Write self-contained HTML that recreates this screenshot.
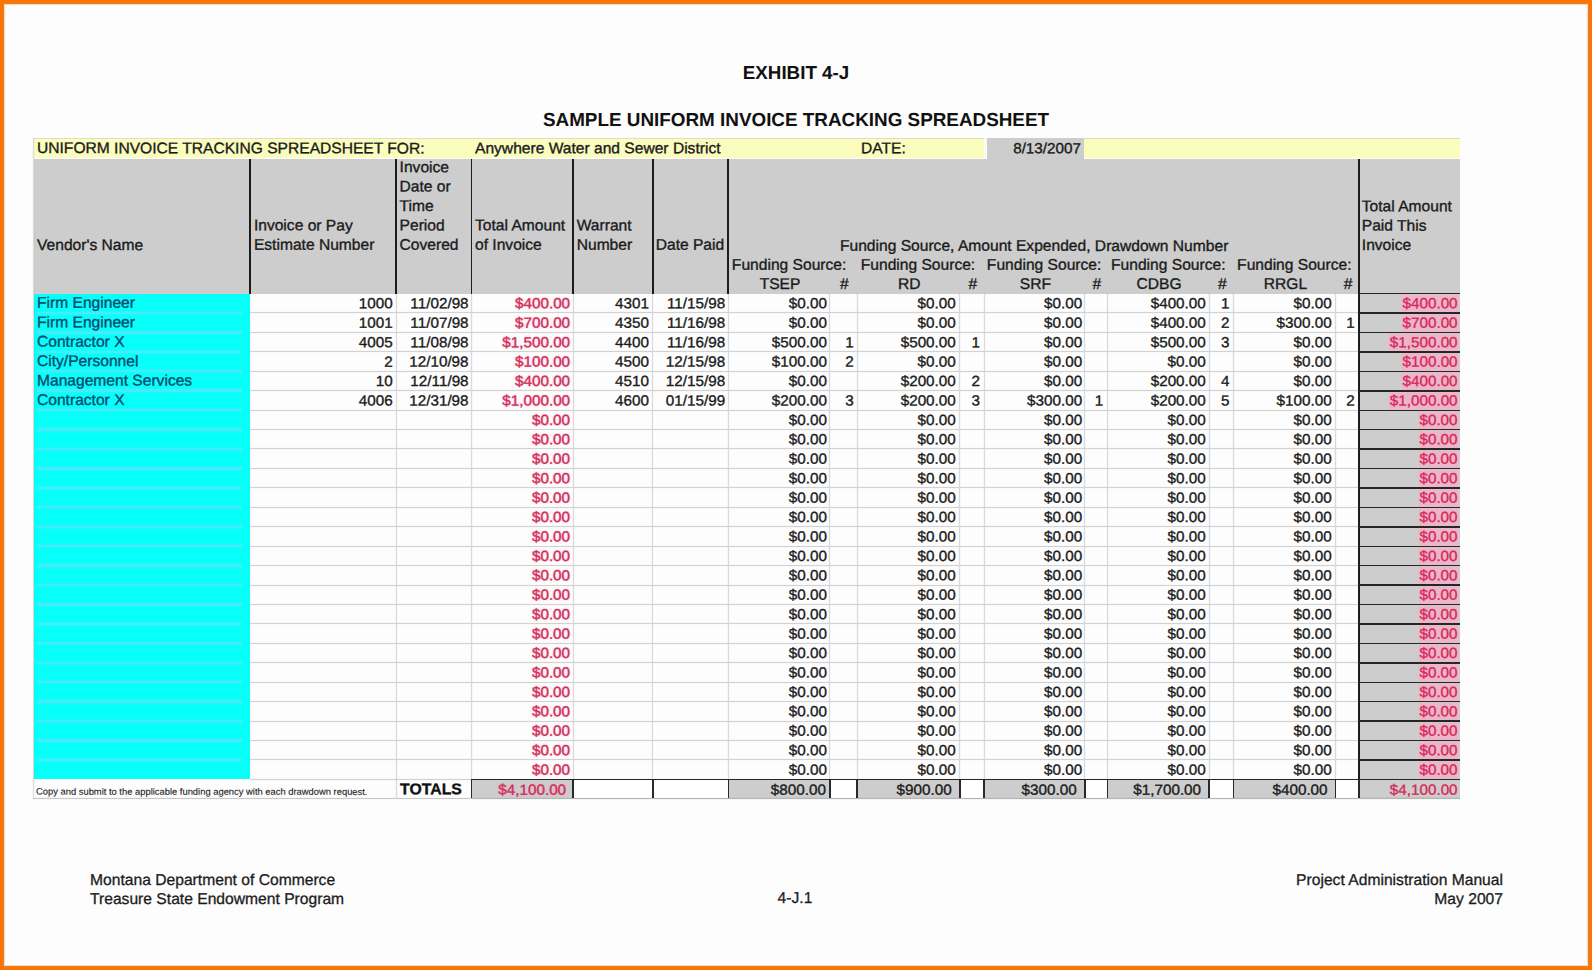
<!DOCTYPE html>
<html lang="en">
<head>
<meta charset="utf-8">
<title>Exhibit 4-J Sample Uniform Invoice Tracking Spreadsheet</title>
<style>
html,body{margin:0;padding:0;background:#fdfdfd;}
body{width:1592px;height:970px;overflow:hidden;position:relative;text-rendering:geometricPrecision;font-family:"Liberation Sans",sans-serif;font-size:15.6px;color:#1a1a1a;}
.fr{position:absolute;z-index:20;}
.abs{position:absolute;}
.t{position:absolute;white-space:nowrap;line-height:19px;-webkit-text-stroke:0.35px currentColor;transform:translate(var(--x,0px),var(--y,0px)) rotate(.05deg) scaleY(.985);transform-origin:50% 50%;}
.n{transform:translate(var(--x,0px),var(--y,0px)) rotate(.05deg) scaleY(.965);font-size:15.25px;}
.r{text-align:right;}
.c{text-align:center;}
.b{font-weight:bold;}
.red{color:#cf2f58;text-shadow:0 0 2.5px rgba(250,150,195,.75);}
.red2{color:#d8285a;}
.red2 span{background:#ecb6ca;box-shadow:0 0 2px 1px #ecb6ca;}
.cy{color:#0a4870;}
.vl{position:absolute;width:1.8px;background:#1c1c1c;}
.hl{position:absolute;height:1.6px;background:#262626;z-index:5;}
.gv{position:absolute;width:1px;background:#dadada;box-shadow:0 0 0 0.5px rgba(0,0,0,.045);}
.gh{position:absolute;height:1px;background:#d2d2d2;box-shadow:0 0 0 0.5px rgba(0,0,0,.03);}
.title{position:absolute;font-weight:bold;font-size:18.8px;color:#111;white-space:nowrap;text-align:center;line-height:22px;}
.foot{position:absolute;white-space:nowrap;line-height:20px;font-size:15.65px;color:#1c1c1c;-webkit-text-stroke:0.3px currentColor;}
</style>
</head>
<body>

<div class="title" style="left:596px;width:400px;top:62px;">EXHIBIT 4-J</div>
<div class="title" style="left:396px;width:800px;top:109px;font-size:18.87px;">SAMPLE UNIFORM INVOICE TRACKING SPREADSHEET</div>
<div class="abs" style="left:33.0px;top:138.0px;width:1427.2px;height:20.0px;background:#fafdbe;border-top:1px solid #dcdfc0;box-sizing:border-box;"></div>
<div class="abs" style="left:983.5px;top:137.5px;width:3.5px;height:21.0px;background:#fbfbf4;"></div>
<div class="abs" style="left:987.0px;top:137.8px;width:97.0px;height:21.7px;background:#cdcdcd;"></div>
<div class="t " style="left:37px;top:139px;--x:0.00px;--y:0.30px;">UNIFORM INVOICE TRACKING SPREADSHEET FOR:</div>
<div class="t " style="left:475px;top:139px;--x:0.00px;--y:0.30px;">Anywhere Water and Sewer District</div>
<div class="t " style="left:861px;top:139px;--x:0.00px;--y:0.30px;">DATE:</div>
<div class="t r n " style="left:984px;width:97.0px;top:139px;--x:0.00px;--y:0.30px;">8/13/2007</div>
<div class="abs" style="left:33.0px;top:158.5px;width:1427.2px;height:135.0px;background:#cdcdcd;"></div>
<div class="abs" style="left:33.8px;top:293.5px;width:216.5px;height:485.8px;background:#06fff8;"></div>
<div class="abs" style="left:37.0px;top:310.7px;width:205.0px;height:4.4px;background:linear-gradient(to bottom,rgba(95,228,252,0),rgba(95,228,252,.7) 30%,rgba(95,228,252,.7) 70%,rgba(95,228,252,0));"></div>
<div class="abs" style="left:37.0px;top:330.2px;width:205.0px;height:4.4px;background:linear-gradient(to bottom,rgba(95,228,252,0),rgba(95,228,252,.7) 30%,rgba(95,228,252,.7) 70%,rgba(95,228,252,0));"></div>
<div class="abs" style="left:37.0px;top:349.6px;width:205.0px;height:4.4px;background:linear-gradient(to bottom,rgba(95,228,252,0),rgba(95,228,252,.7) 30%,rgba(95,228,252,.7) 70%,rgba(95,228,252,0));"></div>
<div class="abs" style="left:37.0px;top:369.0px;width:205.0px;height:4.4px;background:linear-gradient(to bottom,rgba(95,228,252,0),rgba(95,228,252,.7) 30%,rgba(95,228,252,.7) 70%,rgba(95,228,252,0));"></div>
<div class="abs" style="left:37.0px;top:388.4px;width:205.0px;height:4.4px;background:linear-gradient(to bottom,rgba(95,228,252,0),rgba(95,228,252,.7) 30%,rgba(95,228,252,.7) 70%,rgba(95,228,252,0));"></div>
<div class="abs" style="left:37.0px;top:407.9px;width:205.0px;height:4.4px;background:linear-gradient(to bottom,rgba(95,228,252,0),rgba(95,228,252,.7) 30%,rgba(95,228,252,.7) 70%,rgba(95,228,252,0));"></div>
<div class="abs" style="left:37.0px;top:427.3px;width:205.0px;height:4.4px;background:linear-gradient(to bottom,rgba(95,228,252,0),rgba(95,228,252,.7) 30%,rgba(95,228,252,.7) 70%,rgba(95,228,252,0));"></div>
<div class="abs" style="left:37.0px;top:446.7px;width:205.0px;height:4.4px;background:linear-gradient(to bottom,rgba(95,228,252,0),rgba(95,228,252,.7) 30%,rgba(95,228,252,.7) 70%,rgba(95,228,252,0));"></div>
<div class="abs" style="left:37.0px;top:466.2px;width:205.0px;height:4.4px;background:linear-gradient(to bottom,rgba(95,228,252,0),rgba(95,228,252,.7) 30%,rgba(95,228,252,.7) 70%,rgba(95,228,252,0));"></div>
<div class="abs" style="left:37.0px;top:485.6px;width:205.0px;height:4.4px;background:linear-gradient(to bottom,rgba(95,228,252,0),rgba(95,228,252,.7) 30%,rgba(95,228,252,.7) 70%,rgba(95,228,252,0));"></div>
<div class="abs" style="left:37.0px;top:505.0px;width:205.0px;height:4.4px;background:linear-gradient(to bottom,rgba(95,228,252,0),rgba(95,228,252,.7) 30%,rgba(95,228,252,.7) 70%,rgba(95,228,252,0));"></div>
<div class="abs" style="left:37.0px;top:524.5px;width:205.0px;height:4.4px;background:linear-gradient(to bottom,rgba(95,228,252,0),rgba(95,228,252,.7) 30%,rgba(95,228,252,.7) 70%,rgba(95,228,252,0));"></div>
<div class="abs" style="left:37.0px;top:543.9px;width:205.0px;height:4.4px;background:linear-gradient(to bottom,rgba(95,228,252,0),rgba(95,228,252,.7) 30%,rgba(95,228,252,.7) 70%,rgba(95,228,252,0));"></div>
<div class="abs" style="left:37.0px;top:563.3px;width:205.0px;height:4.4px;background:linear-gradient(to bottom,rgba(95,228,252,0),rgba(95,228,252,.7) 30%,rgba(95,228,252,.7) 70%,rgba(95,228,252,0));"></div>
<div class="abs" style="left:37.0px;top:582.8px;width:205.0px;height:4.4px;background:linear-gradient(to bottom,rgba(95,228,252,0),rgba(95,228,252,.7) 30%,rgba(95,228,252,.7) 70%,rgba(95,228,252,0));"></div>
<div class="abs" style="left:37.0px;top:602.2px;width:205.0px;height:4.4px;background:linear-gradient(to bottom,rgba(95,228,252,0),rgba(95,228,252,.7) 30%,rgba(95,228,252,.7) 70%,rgba(95,228,252,0));"></div>
<div class="abs" style="left:37.0px;top:621.6px;width:205.0px;height:4.4px;background:linear-gradient(to bottom,rgba(95,228,252,0),rgba(95,228,252,.7) 30%,rgba(95,228,252,.7) 70%,rgba(95,228,252,0));"></div>
<div class="abs" style="left:37.0px;top:641.0px;width:205.0px;height:4.4px;background:linear-gradient(to bottom,rgba(95,228,252,0),rgba(95,228,252,.7) 30%,rgba(95,228,252,.7) 70%,rgba(95,228,252,0));"></div>
<div class="abs" style="left:37.0px;top:660.5px;width:205.0px;height:4.4px;background:linear-gradient(to bottom,rgba(95,228,252,0),rgba(95,228,252,.7) 30%,rgba(95,228,252,.7) 70%,rgba(95,228,252,0));"></div>
<div class="abs" style="left:37.0px;top:679.9px;width:205.0px;height:4.4px;background:linear-gradient(to bottom,rgba(95,228,252,0),rgba(95,228,252,.7) 30%,rgba(95,228,252,.7) 70%,rgba(95,228,252,0));"></div>
<div class="abs" style="left:37.0px;top:699.3px;width:205.0px;height:4.4px;background:linear-gradient(to bottom,rgba(95,228,252,0),rgba(95,228,252,.7) 30%,rgba(95,228,252,.7) 70%,rgba(95,228,252,0));"></div>
<div class="abs" style="left:37.0px;top:718.8px;width:205.0px;height:4.4px;background:linear-gradient(to bottom,rgba(95,228,252,0),rgba(95,228,252,.7) 30%,rgba(95,228,252,.7) 70%,rgba(95,228,252,0));"></div>
<div class="abs" style="left:37.0px;top:738.2px;width:205.0px;height:4.4px;background:linear-gradient(to bottom,rgba(95,228,252,0),rgba(95,228,252,.7) 30%,rgba(95,228,252,.7) 70%,rgba(95,228,252,0));"></div>
<div class="abs" style="left:37.0px;top:757.6px;width:205.0px;height:4.4px;background:linear-gradient(to bottom,rgba(95,228,252,0),rgba(95,228,252,.7) 30%,rgba(95,228,252,.7) 70%,rgba(95,228,252,0));"></div>
<div class="abs" style="left:1358.8px;top:293.5px;width:101.4px;height:505.1px;background:#cdcdcd;"></div>
<div class="gh" style="left:250.3px;top:312.4px;width:1108.5px;"></div>
<div class="gh" style="left:250.3px;top:331.9px;width:1108.5px;"></div>
<div class="gh" style="left:250.3px;top:351.3px;width:1108.5px;"></div>
<div class="gh" style="left:250.3px;top:370.7px;width:1108.5px;"></div>
<div class="gh" style="left:250.3px;top:390.1px;width:1108.5px;"></div>
<div class="gh" style="left:250.3px;top:409.6px;width:1108.5px;"></div>
<div class="gh" style="left:250.3px;top:429.0px;width:1108.5px;"></div>
<div class="gh" style="left:250.3px;top:448.4px;width:1108.5px;"></div>
<div class="gh" style="left:250.3px;top:467.9px;width:1108.5px;"></div>
<div class="gh" style="left:250.3px;top:487.3px;width:1108.5px;"></div>
<div class="gh" style="left:250.3px;top:506.7px;width:1108.5px;"></div>
<div class="gh" style="left:250.3px;top:526.2px;width:1108.5px;"></div>
<div class="gh" style="left:250.3px;top:545.6px;width:1108.5px;"></div>
<div class="gh" style="left:250.3px;top:565.0px;width:1108.5px;"></div>
<div class="gh" style="left:250.3px;top:584.5px;width:1108.5px;"></div>
<div class="gh" style="left:250.3px;top:603.9px;width:1108.5px;"></div>
<div class="gh" style="left:250.3px;top:623.3px;width:1108.5px;"></div>
<div class="gh" style="left:250.3px;top:642.7px;width:1108.5px;"></div>
<div class="gh" style="left:250.3px;top:662.2px;width:1108.5px;"></div>
<div class="gh" style="left:250.3px;top:681.6px;width:1108.5px;"></div>
<div class="gh" style="left:250.3px;top:701.0px;width:1108.5px;"></div>
<div class="gh" style="left:250.3px;top:720.5px;width:1108.5px;"></div>
<div class="gh" style="left:250.3px;top:739.9px;width:1108.5px;"></div>
<div class="gh" style="left:250.3px;top:759.3px;width:1108.5px;"></div>
<div class="gh" style="left:250.3px;top:778.8px;width:1108.5px;"></div>
<div class="gv" style="left:395.6px;top:293.5px;height:485.8px;"></div>
<div class="gv" style="left:471.1px;top:293.5px;height:485.8px;"></div>
<div class="gv" style="left:572.6px;top:293.5px;height:485.8px;"></div>
<div class="gv" style="left:652.4px;top:293.5px;height:485.8px;"></div>
<div class="gv" style="left:727.7px;top:293.5px;height:485.8px;"></div>
<div class="gv" style="left:829.4px;top:293.5px;height:485.8px;"></div>
<div class="gv" style="left:856.5px;top:293.5px;height:485.8px;"></div>
<div class="gv" style="left:959.2px;top:293.5px;height:485.8px;"></div>
<div class="gv" style="left:983.5px;top:293.5px;height:485.8px;"></div>
<div class="gv" style="left:1084.2px;top:293.5px;height:485.8px;"></div>
<div class="gv" style="left:1106.7px;top:293.5px;height:485.8px;"></div>
<div class="gv" style="left:1208.6px;top:293.5px;height:485.8px;"></div>
<div class="gv" style="left:1232.9px;top:293.5px;height:485.8px;"></div>
<div class="gv" style="left:1335.1px;top:293.5px;height:485.8px;"></div>
<div class="gv" style="left:32.5px;top:137.5px;height:661.1px;background:#dcdcdc"></div>
<div class="gh" style="left:33.0px;top:798.1px;width:1427.2px;background:#c8c8c8"></div>
<div class="gv" style="left:395.6px;top:779.2px;height:19.4px;"></div>
<div class="vl" style="left:249.4px;top:158.5px;height:135.0px;"></div>
<div class="vl" style="left:395.2px;top:158.5px;height:135.0px;"></div>
<div class="vl" style="left:470.7px;top:158.5px;height:135.0px;"></div>
<div class="vl" style="left:572.2px;top:158.5px;height:135.0px;"></div>
<div class="vl" style="left:652.0px;top:158.5px;height:135.0px;"></div>
<div class="vl" style="left:727.3px;top:158.5px;height:135.0px;"></div>
<div class="vl" style="left:1357.9px;top:158.5px;height:135.0px;"></div>
<div class="vl" style="left:1357.8px;top:293.5px;height:505.1px;"></div>
<div class="hl" style="left:1358.8px;top:292.9px;width:101.4px;"></div>
<div class="hl" style="left:1358.8px;top:312.3px;width:101.4px;"></div>
<div class="hl" style="left:1358.8px;top:331.8px;width:101.4px;"></div>
<div class="hl" style="left:1358.8px;top:351.2px;width:101.4px;"></div>
<div class="hl" style="left:1358.8px;top:370.6px;width:101.4px;"></div>
<div class="hl" style="left:1358.8px;top:390.0px;width:101.4px;"></div>
<div class="hl" style="left:1358.8px;top:409.5px;width:101.4px;"></div>
<div class="hl" style="left:1358.8px;top:428.9px;width:101.4px;"></div>
<div class="hl" style="left:1358.8px;top:448.3px;width:101.4px;"></div>
<div class="hl" style="left:1358.8px;top:467.8px;width:101.4px;"></div>
<div class="hl" style="left:1358.8px;top:487.2px;width:101.4px;"></div>
<div class="hl" style="left:1358.8px;top:506.6px;width:101.4px;"></div>
<div class="hl" style="left:1358.8px;top:526.1px;width:101.4px;"></div>
<div class="hl" style="left:1358.8px;top:545.5px;width:101.4px;"></div>
<div class="hl" style="left:1358.8px;top:564.9px;width:101.4px;"></div>
<div class="hl" style="left:1358.8px;top:584.4px;width:101.4px;"></div>
<div class="hl" style="left:1358.8px;top:603.8px;width:101.4px;"></div>
<div class="hl" style="left:1358.8px;top:623.2px;width:101.4px;"></div>
<div class="hl" style="left:1358.8px;top:642.6px;width:101.4px;"></div>
<div class="hl" style="left:1358.8px;top:662.1px;width:101.4px;"></div>
<div class="hl" style="left:1358.8px;top:681.5px;width:101.4px;"></div>
<div class="hl" style="left:1358.8px;top:700.9px;width:101.4px;"></div>
<div class="hl" style="left:1358.8px;top:720.4px;width:101.4px;"></div>
<div class="hl" style="left:1358.8px;top:739.8px;width:101.4px;"></div>
<div class="hl" style="left:1358.8px;top:759.2px;width:101.4px;"></div>
<div class="hl" style="left:1358.8px;top:778.6px;width:101.4px;"></div>
<div class="t " style="left:37px;top:236px;--x:0.00px;--y:0.16px;">Vendor's Name</div>
<div class="t " style="left:253px;top:216px;--x:0.90px;--y:0.44px;">Invoice or Pay</div>
<div class="t " style="left:253px;top:235px;--x:0.90px;--y:0.85px;">Estimate Number</div>
<div class="t " style="left:399px;top:158px;--x:0.60px;--y:0.21px;">Invoice</div>
<div class="t " style="left:399px;top:177px;--x:0.60px;--y:0.62px;">Date or</div>
<div class="t " style="left:399px;top:197px;--x:0.60px;--y:0.03px;">Time</div>
<div class="t " style="left:399px;top:216px;--x:0.60px;--y:0.44px;">Period</div>
<div class="t " style="left:399px;top:235px;--x:0.60px;--y:0.85px;">Covered</div>
<div class="t " style="left:475px;top:216px;--x:0.00px;--y:0.44px;">Total Amount</div>
<div class="t " style="left:475px;top:235px;--x:0.00px;--y:0.85px;">of Invoice</div>
<div class="t " style="left:576px;top:216px;--x:0.70px;--y:0.44px;">Warrant</div>
<div class="t " style="left:576px;top:235px;--x:0.70px;--y:0.85px;">Number</div>
<div class="t " style="left:655px;top:235px;--x:0.70px;--y:0.85px;">Date Paid</div>
<div class="t " style="left:1361px;top:197px;--x:0.80px;--y:0.28px;">Total Amount</div>
<div class="t " style="left:1361px;top:216px;--x:0.80px;--y:0.69px;">Paid This</div>
<div class="t " style="left:1361px;top:236px;--x:0.80px;--y:0.10px;">Invoice</div>
<div class="t " style="left:840px;top:236px;--x:0.00px;--y:0.90px;">Funding Source, Amount Expended, Drawdown Number</div>
<div class="t c " style="left:721px;width:135.8px;top:255px;--x:0.20px;--y:0.80px;">Funding Source:</div>
<div class="t c " style="left:730px;width:99.7px;top:274px;--x:0.20px;--y:0.96px;">TSEP</div>
<div class="t c " style="left:831px;width:25.1px;top:274px;--x:0.90px;--y:0.96px;">#</div>
<div class="t c " style="left:852px;width:132.0px;top:255px;--x:0.00px;--y:0.80px;">Funding Source:</div>
<div class="t c " style="left:859px;width:100.7px;top:274px;--x:0.00px;--y:0.96px;">RD</div>
<div class="t c " style="left:961px;width:22.3px;top:274px;--x:0.70px;--y:0.96px;">#</div>
<div class="t c " style="left:981px;width:126.2px;top:255px;--x:0.00px;--y:0.80px;">Funding Source:</div>
<div class="t c " style="left:986px;width:98.7px;top:274px;--x:0.00px;--y:0.96px;">SRF</div>
<div class="t c " style="left:1086px;width:20.5px;top:274px;--x:0.70px;--y:0.96px;">#</div>
<div class="t c " style="left:1103px;width:130.2px;top:255px;--x:0.20px;--y:0.80px;">Funding Source:</div>
<div class="t c " style="left:1109px;width:99.9px;top:274px;--x:0.20px;--y:0.96px;">CDBG</div>
<div class="t c " style="left:1211px;width:22.3px;top:274px;--x:0.10px;--y:0.96px;">#</div>
<div class="t c " style="left:1229px;width:128.9px;top:255px;--x:0.90px;--y:0.80px;">Funding Source:</div>
<div class="t c " style="left:1235px;width:100.2px;top:274px;--x:0.40px;--y:0.96px;">RRGL</div>
<div class="t c " style="left:1337px;width:21.2px;top:274px;--x:0.60px;--y:0.96px;">#</div>
<div class="t cy" style="left:37px;top:293px;--x:0.00px;--y:0.87px;">Firm Engineer</div>
<div class="t r n " style="left:250px;width:142.5px;top:294px;--x:0.30px;--y:0.47px;">1000</div>
<div class="t r n " style="left:396px;width:72.5px;top:294px;--x:0.10px;--y:0.47px;">11/02/98</div>
<div class="t r n red" style="left:471px;width:98.5px;top:294px;--x:0.60px;--y:0.47px;">$400.00</div>
<div class="t r n " style="left:573px;width:75.8px;top:294px;--x:0.10px;--y:0.47px;">4301</div>
<div class="t r n " style="left:652px;width:72.3px;top:294px;--x:0.90px;--y:0.47px;">11/15/98</div>
<div class="t r n " style="left:728px;width:98.8px;top:294px;--x:0.20px;--y:0.47px;">$0.00</div>
<div class="t r n " style="left:857px;width:98.8px;top:294px;--x:0.00px;--y:0.47px;">$0.00</div>
<div class="t r n " style="left:984px;width:98.2px;top:294px;--x:0.00px;--y:0.47px;">$0.00</div>
<div class="t r n " style="left:1107px;width:98.6px;top:294px;--x:0.20px;--y:0.47px;">$400.00</div>
<div class="t r n " style="left:1209px;width:20.3px;top:294px;--x:0.10px;--y:0.47px;">1</div>
<div class="t r n " style="left:1233px;width:98.3px;top:294px;--x:0.40px;--y:0.47px;">$0.00</div>
<div class="t r n red2" style="left:1358px;width:98.8px;top:294px;--x:0.80px;--y:0.47px;"><span>$400.00</span></div>
<div class="t cy" style="left:37px;top:313px;--x:0.00px;--y:0.30px;">Firm Engineer</div>
<div class="t r n " style="left:250px;width:142.5px;top:313px;--x:0.30px;--y:0.90px;">1001</div>
<div class="t r n " style="left:396px;width:72.5px;top:313px;--x:0.10px;--y:0.90px;">11/07/98</div>
<div class="t r n red" style="left:471px;width:98.5px;top:313px;--x:0.60px;--y:0.90px;">$700.00</div>
<div class="t r n " style="left:573px;width:75.8px;top:313px;--x:0.10px;--y:0.90px;">4350</div>
<div class="t r n " style="left:652px;width:72.3px;top:313px;--x:0.90px;--y:0.90px;">11/16/98</div>
<div class="t r n " style="left:728px;width:98.8px;top:313px;--x:0.20px;--y:0.90px;">$0.00</div>
<div class="t r n " style="left:857px;width:98.8px;top:313px;--x:0.00px;--y:0.90px;">$0.00</div>
<div class="t r n " style="left:984px;width:98.2px;top:313px;--x:0.00px;--y:0.90px;">$0.00</div>
<div class="t r n " style="left:1107px;width:98.6px;top:313px;--x:0.20px;--y:0.90px;">$400.00</div>
<div class="t r n " style="left:1209px;width:20.3px;top:313px;--x:0.10px;--y:0.90px;">2</div>
<div class="t r n " style="left:1233px;width:98.3px;top:313px;--x:0.40px;--y:0.90px;">$300.00</div>
<div class="t r n " style="left:1335px;width:19.2px;top:313px;--x:0.60px;--y:0.90px;">1</div>
<div class="t r n red2" style="left:1358px;width:98.8px;top:313px;--x:0.80px;--y:0.90px;"><span>$700.00</span></div>
<div class="t cy" style="left:37px;top:332px;--x:0.00px;--y:0.73px;">Contractor X</div>
<div class="t r n " style="left:250px;width:142.5px;top:333px;--x:0.30px;--y:0.33px;">4005</div>
<div class="t r n " style="left:396px;width:72.5px;top:333px;--x:0.10px;--y:0.33px;">11/08/98</div>
<div class="t r n red" style="left:471px;width:98.5px;top:333px;--x:0.60px;--y:0.33px;">$1,500.00</div>
<div class="t r n " style="left:573px;width:75.8px;top:333px;--x:0.10px;--y:0.33px;">4400</div>
<div class="t r n " style="left:652px;width:72.3px;top:333px;--x:0.90px;--y:0.33px;">11/16/98</div>
<div class="t r n " style="left:728px;width:98.8px;top:333px;--x:0.20px;--y:0.33px;">$500.00</div>
<div class="t r n " style="left:829px;width:23.8px;top:333px;--x:0.90px;--y:0.33px;">1</div>
<div class="t r n " style="left:857px;width:98.8px;top:333px;--x:0.00px;--y:0.33px;">$500.00</div>
<div class="t r n " style="left:959px;width:20.3px;top:333px;--x:0.70px;--y:0.33px;">1</div>
<div class="t r n " style="left:984px;width:98.2px;top:333px;--x:0.00px;--y:0.33px;">$0.00</div>
<div class="t r n " style="left:1107px;width:98.6px;top:333px;--x:0.20px;--y:0.33px;">$500.00</div>
<div class="t r n " style="left:1209px;width:20.3px;top:333px;--x:0.10px;--y:0.33px;">3</div>
<div class="t r n " style="left:1233px;width:98.3px;top:333px;--x:0.40px;--y:0.33px;">$0.00</div>
<div class="t r n red2" style="left:1358px;width:98.8px;top:333px;--x:0.80px;--y:0.33px;"><span>$1,500.00</span></div>
<div class="t cy" style="left:37px;top:352px;--x:0.00px;--y:0.16px;">City/Personnel</div>
<div class="t r n " style="left:250px;width:142.5px;top:352px;--x:0.30px;--y:0.76px;">2</div>
<div class="t r n " style="left:396px;width:72.5px;top:352px;--x:0.10px;--y:0.76px;">12/10/98</div>
<div class="t r n red" style="left:471px;width:98.5px;top:352px;--x:0.60px;--y:0.76px;">$100.00</div>
<div class="t r n " style="left:573px;width:75.8px;top:352px;--x:0.10px;--y:0.76px;">4500</div>
<div class="t r n " style="left:652px;width:72.3px;top:352px;--x:0.90px;--y:0.76px;">12/15/98</div>
<div class="t r n " style="left:728px;width:98.8px;top:352px;--x:0.20px;--y:0.76px;">$100.00</div>
<div class="t r n " style="left:829px;width:23.8px;top:352px;--x:0.90px;--y:0.76px;">2</div>
<div class="t r n " style="left:857px;width:98.8px;top:352px;--x:0.00px;--y:0.76px;">$0.00</div>
<div class="t r n " style="left:984px;width:98.2px;top:352px;--x:0.00px;--y:0.76px;">$0.00</div>
<div class="t r n " style="left:1107px;width:98.6px;top:352px;--x:0.20px;--y:0.76px;">$0.00</div>
<div class="t r n " style="left:1233px;width:98.3px;top:352px;--x:0.40px;--y:0.76px;">$0.00</div>
<div class="t r n red2" style="left:1358px;width:98.8px;top:352px;--x:0.80px;--y:0.76px;"><span>$100.00</span></div>
<div class="t cy" style="left:37px;top:371px;--x:0.00px;--y:0.59px;">Management Services</div>
<div class="t r n " style="left:250px;width:142.5px;top:372px;--x:0.30px;--y:0.19px;">10</div>
<div class="t r n " style="left:396px;width:72.5px;top:372px;--x:0.10px;--y:0.19px;">12/11/98</div>
<div class="t r n red" style="left:471px;width:98.5px;top:372px;--x:0.60px;--y:0.19px;">$400.00</div>
<div class="t r n " style="left:573px;width:75.8px;top:372px;--x:0.10px;--y:0.19px;">4510</div>
<div class="t r n " style="left:652px;width:72.3px;top:372px;--x:0.90px;--y:0.19px;">12/15/98</div>
<div class="t r n " style="left:728px;width:98.8px;top:372px;--x:0.20px;--y:0.19px;">$0.00</div>
<div class="t r n " style="left:857px;width:98.8px;top:372px;--x:0.00px;--y:0.19px;">$200.00</div>
<div class="t r n " style="left:959px;width:20.3px;top:372px;--x:0.70px;--y:0.19px;">2</div>
<div class="t r n " style="left:984px;width:98.2px;top:372px;--x:0.00px;--y:0.19px;">$0.00</div>
<div class="t r n " style="left:1107px;width:98.6px;top:372px;--x:0.20px;--y:0.19px;">$200.00</div>
<div class="t r n " style="left:1209px;width:20.3px;top:372px;--x:0.10px;--y:0.19px;">4</div>
<div class="t r n " style="left:1233px;width:98.3px;top:372px;--x:0.40px;--y:0.19px;">$0.00</div>
<div class="t r n red2" style="left:1358px;width:98.8px;top:372px;--x:0.80px;--y:0.19px;"><span>$400.00</span></div>
<div class="t cy" style="left:37px;top:391px;--x:0.00px;--y:0.02px;">Contractor X</div>
<div class="t r n " style="left:250px;width:142.5px;top:391px;--x:0.30px;--y:0.62px;">4006</div>
<div class="t r n " style="left:396px;width:72.5px;top:391px;--x:0.10px;--y:0.62px;">12/31/98</div>
<div class="t r n red" style="left:471px;width:98.5px;top:391px;--x:0.60px;--y:0.62px;">$1,000.00</div>
<div class="t r n " style="left:573px;width:75.8px;top:391px;--x:0.10px;--y:0.62px;">4600</div>
<div class="t r n " style="left:652px;width:72.3px;top:391px;--x:0.90px;--y:0.62px;">01/15/99</div>
<div class="t r n " style="left:728px;width:98.8px;top:391px;--x:0.20px;--y:0.62px;">$200.00</div>
<div class="t r n " style="left:829px;width:23.8px;top:391px;--x:0.90px;--y:0.62px;">3</div>
<div class="t r n " style="left:857px;width:98.8px;top:391px;--x:0.00px;--y:0.62px;">$200.00</div>
<div class="t r n " style="left:959px;width:20.3px;top:391px;--x:0.70px;--y:0.62px;">3</div>
<div class="t r n " style="left:984px;width:98.2px;top:391px;--x:0.00px;--y:0.62px;">$300.00</div>
<div class="t r n " style="left:1084px;width:18.5px;top:391px;--x:0.70px;--y:0.62px;">1</div>
<div class="t r n " style="left:1107px;width:98.6px;top:391px;--x:0.20px;--y:0.62px;">$200.00</div>
<div class="t r n " style="left:1209px;width:20.3px;top:391px;--x:0.10px;--y:0.62px;">5</div>
<div class="t r n " style="left:1233px;width:98.3px;top:391px;--x:0.40px;--y:0.62px;">$100.00</div>
<div class="t r n " style="left:1335px;width:19.2px;top:391px;--x:0.60px;--y:0.62px;">2</div>
<div class="t r n red2" style="left:1358px;width:98.8px;top:391px;--x:0.80px;--y:0.62px;"><span>$1,000.00</span></div>
<div class="t r n red" style="left:471px;width:98.5px;top:411px;--x:0.60px;--y:0.05px;">$0.00</div>
<div class="t r n " style="left:728px;width:98.8px;top:411px;--x:0.20px;--y:0.05px;">$0.00</div>
<div class="t r n " style="left:857px;width:98.8px;top:411px;--x:0.00px;--y:0.05px;">$0.00</div>
<div class="t r n " style="left:984px;width:98.2px;top:411px;--x:0.00px;--y:0.05px;">$0.00</div>
<div class="t r n " style="left:1107px;width:98.6px;top:411px;--x:0.20px;--y:0.05px;">$0.00</div>
<div class="t r n " style="left:1233px;width:98.3px;top:411px;--x:0.40px;--y:0.05px;">$0.00</div>
<div class="t r n red2" style="left:1358px;width:98.8px;top:411px;--x:0.80px;--y:0.05px;"><span>$0.00</span></div>
<div class="t r n red" style="left:471px;width:98.5px;top:430px;--x:0.60px;--y:0.48px;">$0.00</div>
<div class="t r n " style="left:728px;width:98.8px;top:430px;--x:0.20px;--y:0.48px;">$0.00</div>
<div class="t r n " style="left:857px;width:98.8px;top:430px;--x:0.00px;--y:0.48px;">$0.00</div>
<div class="t r n " style="left:984px;width:98.2px;top:430px;--x:0.00px;--y:0.48px;">$0.00</div>
<div class="t r n " style="left:1107px;width:98.6px;top:430px;--x:0.20px;--y:0.48px;">$0.00</div>
<div class="t r n " style="left:1233px;width:98.3px;top:430px;--x:0.40px;--y:0.48px;">$0.00</div>
<div class="t r n red2" style="left:1358px;width:98.8px;top:430px;--x:0.80px;--y:0.48px;"><span>$0.00</span></div>
<div class="t r n red" style="left:471px;width:98.5px;top:449px;--x:0.60px;--y:0.91px;">$0.00</div>
<div class="t r n " style="left:728px;width:98.8px;top:449px;--x:0.20px;--y:0.91px;">$0.00</div>
<div class="t r n " style="left:857px;width:98.8px;top:449px;--x:0.00px;--y:0.91px;">$0.00</div>
<div class="t r n " style="left:984px;width:98.2px;top:449px;--x:0.00px;--y:0.91px;">$0.00</div>
<div class="t r n " style="left:1107px;width:98.6px;top:449px;--x:0.20px;--y:0.91px;">$0.00</div>
<div class="t r n " style="left:1233px;width:98.3px;top:449px;--x:0.40px;--y:0.91px;">$0.00</div>
<div class="t r n red2" style="left:1358px;width:98.8px;top:449px;--x:0.80px;--y:0.91px;"><span>$0.00</span></div>
<div class="t r n red" style="left:471px;width:98.5px;top:469px;--x:0.60px;--y:0.34px;">$0.00</div>
<div class="t r n " style="left:728px;width:98.8px;top:469px;--x:0.20px;--y:0.34px;">$0.00</div>
<div class="t r n " style="left:857px;width:98.8px;top:469px;--x:0.00px;--y:0.34px;">$0.00</div>
<div class="t r n " style="left:984px;width:98.2px;top:469px;--x:0.00px;--y:0.34px;">$0.00</div>
<div class="t r n " style="left:1107px;width:98.6px;top:469px;--x:0.20px;--y:0.34px;">$0.00</div>
<div class="t r n " style="left:1233px;width:98.3px;top:469px;--x:0.40px;--y:0.34px;">$0.00</div>
<div class="t r n red2" style="left:1358px;width:98.8px;top:469px;--x:0.80px;--y:0.34px;"><span>$0.00</span></div>
<div class="t r n red" style="left:471px;width:98.5px;top:488px;--x:0.60px;--y:0.77px;">$0.00</div>
<div class="t r n " style="left:728px;width:98.8px;top:488px;--x:0.20px;--y:0.77px;">$0.00</div>
<div class="t r n " style="left:857px;width:98.8px;top:488px;--x:0.00px;--y:0.77px;">$0.00</div>
<div class="t r n " style="left:984px;width:98.2px;top:488px;--x:0.00px;--y:0.77px;">$0.00</div>
<div class="t r n " style="left:1107px;width:98.6px;top:488px;--x:0.20px;--y:0.77px;">$0.00</div>
<div class="t r n " style="left:1233px;width:98.3px;top:488px;--x:0.40px;--y:0.77px;">$0.00</div>
<div class="t r n red2" style="left:1358px;width:98.8px;top:488px;--x:0.80px;--y:0.77px;"><span>$0.00</span></div>
<div class="t r n red" style="left:471px;width:98.5px;top:508px;--x:0.60px;--y:0.20px;">$0.00</div>
<div class="t r n " style="left:728px;width:98.8px;top:508px;--x:0.20px;--y:0.20px;">$0.00</div>
<div class="t r n " style="left:857px;width:98.8px;top:508px;--x:0.00px;--y:0.20px;">$0.00</div>
<div class="t r n " style="left:984px;width:98.2px;top:508px;--x:0.00px;--y:0.20px;">$0.00</div>
<div class="t r n " style="left:1107px;width:98.6px;top:508px;--x:0.20px;--y:0.20px;">$0.00</div>
<div class="t r n " style="left:1233px;width:98.3px;top:508px;--x:0.40px;--y:0.20px;">$0.00</div>
<div class="t r n red2" style="left:1358px;width:98.8px;top:508px;--x:0.80px;--y:0.20px;"><span>$0.00</span></div>
<div class="t r n red" style="left:471px;width:98.5px;top:527px;--x:0.60px;--y:0.63px;">$0.00</div>
<div class="t r n " style="left:728px;width:98.8px;top:527px;--x:0.20px;--y:0.63px;">$0.00</div>
<div class="t r n " style="left:857px;width:98.8px;top:527px;--x:0.00px;--y:0.63px;">$0.00</div>
<div class="t r n " style="left:984px;width:98.2px;top:527px;--x:0.00px;--y:0.63px;">$0.00</div>
<div class="t r n " style="left:1107px;width:98.6px;top:527px;--x:0.20px;--y:0.63px;">$0.00</div>
<div class="t r n " style="left:1233px;width:98.3px;top:527px;--x:0.40px;--y:0.63px;">$0.00</div>
<div class="t r n red2" style="left:1358px;width:98.8px;top:527px;--x:0.80px;--y:0.63px;"><span>$0.00</span></div>
<div class="t r n red" style="left:471px;width:98.5px;top:547px;--x:0.60px;--y:0.07px;">$0.00</div>
<div class="t r n " style="left:728px;width:98.8px;top:547px;--x:0.20px;--y:0.07px;">$0.00</div>
<div class="t r n " style="left:857px;width:98.8px;top:547px;--x:0.00px;--y:0.07px;">$0.00</div>
<div class="t r n " style="left:984px;width:98.2px;top:547px;--x:0.00px;--y:0.07px;">$0.00</div>
<div class="t r n " style="left:1107px;width:98.6px;top:547px;--x:0.20px;--y:0.07px;">$0.00</div>
<div class="t r n " style="left:1233px;width:98.3px;top:547px;--x:0.40px;--y:0.07px;">$0.00</div>
<div class="t r n red2" style="left:1358px;width:98.8px;top:547px;--x:0.80px;--y:0.07px;"><span>$0.00</span></div>
<div class="t r n red" style="left:471px;width:98.5px;top:566px;--x:0.60px;--y:0.50px;">$0.00</div>
<div class="t r n " style="left:728px;width:98.8px;top:566px;--x:0.20px;--y:0.50px;">$0.00</div>
<div class="t r n " style="left:857px;width:98.8px;top:566px;--x:0.00px;--y:0.50px;">$0.00</div>
<div class="t r n " style="left:984px;width:98.2px;top:566px;--x:0.00px;--y:0.50px;">$0.00</div>
<div class="t r n " style="left:1107px;width:98.6px;top:566px;--x:0.20px;--y:0.50px;">$0.00</div>
<div class="t r n " style="left:1233px;width:98.3px;top:566px;--x:0.40px;--y:0.50px;">$0.00</div>
<div class="t r n red2" style="left:1358px;width:98.8px;top:566px;--x:0.80px;--y:0.50px;"><span>$0.00</span></div>
<div class="t r n red" style="left:471px;width:98.5px;top:585px;--x:0.60px;--y:0.93px;">$0.00</div>
<div class="t r n " style="left:728px;width:98.8px;top:585px;--x:0.20px;--y:0.93px;">$0.00</div>
<div class="t r n " style="left:857px;width:98.8px;top:585px;--x:0.00px;--y:0.93px;">$0.00</div>
<div class="t r n " style="left:984px;width:98.2px;top:585px;--x:0.00px;--y:0.93px;">$0.00</div>
<div class="t r n " style="left:1107px;width:98.6px;top:585px;--x:0.20px;--y:0.93px;">$0.00</div>
<div class="t r n " style="left:1233px;width:98.3px;top:585px;--x:0.40px;--y:0.93px;">$0.00</div>
<div class="t r n red2" style="left:1358px;width:98.8px;top:585px;--x:0.80px;--y:0.93px;"><span>$0.00</span></div>
<div class="t r n red" style="left:471px;width:98.5px;top:605px;--x:0.60px;--y:0.36px;">$0.00</div>
<div class="t r n " style="left:728px;width:98.8px;top:605px;--x:0.20px;--y:0.36px;">$0.00</div>
<div class="t r n " style="left:857px;width:98.8px;top:605px;--x:0.00px;--y:0.36px;">$0.00</div>
<div class="t r n " style="left:984px;width:98.2px;top:605px;--x:0.00px;--y:0.36px;">$0.00</div>
<div class="t r n " style="left:1107px;width:98.6px;top:605px;--x:0.20px;--y:0.36px;">$0.00</div>
<div class="t r n " style="left:1233px;width:98.3px;top:605px;--x:0.40px;--y:0.36px;">$0.00</div>
<div class="t r n red2" style="left:1358px;width:98.8px;top:605px;--x:0.80px;--y:0.36px;"><span>$0.00</span></div>
<div class="t r n red" style="left:471px;width:98.5px;top:624px;--x:0.60px;--y:0.78px;">$0.00</div>
<div class="t r n " style="left:728px;width:98.8px;top:624px;--x:0.20px;--y:0.78px;">$0.00</div>
<div class="t r n " style="left:857px;width:98.8px;top:624px;--x:0.00px;--y:0.78px;">$0.00</div>
<div class="t r n " style="left:984px;width:98.2px;top:624px;--x:0.00px;--y:0.78px;">$0.00</div>
<div class="t r n " style="left:1107px;width:98.6px;top:624px;--x:0.20px;--y:0.78px;">$0.00</div>
<div class="t r n " style="left:1233px;width:98.3px;top:624px;--x:0.40px;--y:0.78px;">$0.00</div>
<div class="t r n red2" style="left:1358px;width:98.8px;top:624px;--x:0.80px;--y:0.78px;"><span>$0.00</span></div>
<div class="t r n red" style="left:471px;width:98.5px;top:644px;--x:0.60px;--y:0.22px;">$0.00</div>
<div class="t r n " style="left:728px;width:98.8px;top:644px;--x:0.20px;--y:0.22px;">$0.00</div>
<div class="t r n " style="left:857px;width:98.8px;top:644px;--x:0.00px;--y:0.22px;">$0.00</div>
<div class="t r n " style="left:984px;width:98.2px;top:644px;--x:0.00px;--y:0.22px;">$0.00</div>
<div class="t r n " style="left:1107px;width:98.6px;top:644px;--x:0.20px;--y:0.22px;">$0.00</div>
<div class="t r n " style="left:1233px;width:98.3px;top:644px;--x:0.40px;--y:0.22px;">$0.00</div>
<div class="t r n red2" style="left:1358px;width:98.8px;top:644px;--x:0.80px;--y:0.22px;"><span>$0.00</span></div>
<div class="t r n red" style="left:471px;width:98.5px;top:663px;--x:0.60px;--y:0.65px;">$0.00</div>
<div class="t r n " style="left:728px;width:98.8px;top:663px;--x:0.20px;--y:0.65px;">$0.00</div>
<div class="t r n " style="left:857px;width:98.8px;top:663px;--x:0.00px;--y:0.65px;">$0.00</div>
<div class="t r n " style="left:984px;width:98.2px;top:663px;--x:0.00px;--y:0.65px;">$0.00</div>
<div class="t r n " style="left:1107px;width:98.6px;top:663px;--x:0.20px;--y:0.65px;">$0.00</div>
<div class="t r n " style="left:1233px;width:98.3px;top:663px;--x:0.40px;--y:0.65px;">$0.00</div>
<div class="t r n red2" style="left:1358px;width:98.8px;top:663px;--x:0.80px;--y:0.65px;"><span>$0.00</span></div>
<div class="t r n red" style="left:471px;width:98.5px;top:683px;--x:0.60px;--y:0.08px;">$0.00</div>
<div class="t r n " style="left:728px;width:98.8px;top:683px;--x:0.20px;--y:0.08px;">$0.00</div>
<div class="t r n " style="left:857px;width:98.8px;top:683px;--x:0.00px;--y:0.08px;">$0.00</div>
<div class="t r n " style="left:984px;width:98.2px;top:683px;--x:0.00px;--y:0.08px;">$0.00</div>
<div class="t r n " style="left:1107px;width:98.6px;top:683px;--x:0.20px;--y:0.08px;">$0.00</div>
<div class="t r n " style="left:1233px;width:98.3px;top:683px;--x:0.40px;--y:0.08px;">$0.00</div>
<div class="t r n red2" style="left:1358px;width:98.8px;top:683px;--x:0.80px;--y:0.08px;"><span>$0.00</span></div>
<div class="t r n red" style="left:471px;width:98.5px;top:702px;--x:0.60px;--y:0.50px;">$0.00</div>
<div class="t r n " style="left:728px;width:98.8px;top:702px;--x:0.20px;--y:0.50px;">$0.00</div>
<div class="t r n " style="left:857px;width:98.8px;top:702px;--x:0.00px;--y:0.50px;">$0.00</div>
<div class="t r n " style="left:984px;width:98.2px;top:702px;--x:0.00px;--y:0.50px;">$0.00</div>
<div class="t r n " style="left:1107px;width:98.6px;top:702px;--x:0.20px;--y:0.50px;">$0.00</div>
<div class="t r n " style="left:1233px;width:98.3px;top:702px;--x:0.40px;--y:0.50px;">$0.00</div>
<div class="t r n red2" style="left:1358px;width:98.8px;top:702px;--x:0.80px;--y:0.50px;"><span>$0.00</span></div>
<div class="t r n red" style="left:471px;width:98.5px;top:721px;--x:0.60px;--y:0.94px;">$0.00</div>
<div class="t r n " style="left:728px;width:98.8px;top:721px;--x:0.20px;--y:0.94px;">$0.00</div>
<div class="t r n " style="left:857px;width:98.8px;top:721px;--x:0.00px;--y:0.94px;">$0.00</div>
<div class="t r n " style="left:984px;width:98.2px;top:721px;--x:0.00px;--y:0.94px;">$0.00</div>
<div class="t r n " style="left:1107px;width:98.6px;top:721px;--x:0.20px;--y:0.94px;">$0.00</div>
<div class="t r n " style="left:1233px;width:98.3px;top:721px;--x:0.40px;--y:0.94px;">$0.00</div>
<div class="t r n red2" style="left:1358px;width:98.8px;top:721px;--x:0.80px;--y:0.94px;"><span>$0.00</span></div>
<div class="t r n red" style="left:471px;width:98.5px;top:741px;--x:0.60px;--y:0.37px;">$0.00</div>
<div class="t r n " style="left:728px;width:98.8px;top:741px;--x:0.20px;--y:0.37px;">$0.00</div>
<div class="t r n " style="left:857px;width:98.8px;top:741px;--x:0.00px;--y:0.37px;">$0.00</div>
<div class="t r n " style="left:984px;width:98.2px;top:741px;--x:0.00px;--y:0.37px;">$0.00</div>
<div class="t r n " style="left:1107px;width:98.6px;top:741px;--x:0.20px;--y:0.37px;">$0.00</div>
<div class="t r n " style="left:1233px;width:98.3px;top:741px;--x:0.40px;--y:0.37px;">$0.00</div>
<div class="t r n red2" style="left:1358px;width:98.8px;top:741px;--x:0.80px;--y:0.37px;"><span>$0.00</span></div>
<div class="t r n red" style="left:471px;width:98.5px;top:760px;--x:0.60px;--y:0.79px;">$0.00</div>
<div class="t r n " style="left:728px;width:98.8px;top:760px;--x:0.20px;--y:0.79px;">$0.00</div>
<div class="t r n " style="left:857px;width:98.8px;top:760px;--x:0.00px;--y:0.79px;">$0.00</div>
<div class="t r n " style="left:984px;width:98.2px;top:760px;--x:0.00px;--y:0.79px;">$0.00</div>
<div class="t r n " style="left:1107px;width:98.6px;top:760px;--x:0.20px;--y:0.79px;">$0.00</div>
<div class="t r n " style="left:1233px;width:98.3px;top:760px;--x:0.40px;--y:0.79px;">$0.00</div>
<div class="t r n red2" style="left:1358px;width:98.8px;top:760px;--x:0.80px;--y:0.79px;"><span>$0.00</span></div>
<div class="t " style="left:36px;top:781px;font-size:9.4px;color:#222;-webkit-text-stroke:0.12px #222;--x:0.00px;--y:0.80px;">Copy and submit to the applicable funding agency with each drawdown request.</div>
<div class="t b" style="left:400px;top:780px;font-size:15.8px;color:#111;--x:0.10px;--y:0.30px;">TOTALS</div>
<div class="abs" style="left:471.6px;top:779.2px;width:101.5px;height:19.4px;background:#cdcdcd;"></div>
<div class="abs" style="left:573.1px;top:779.2px;width:79.8px;height:19.4px;background:#fff;"></div>
<div class="abs" style="left:652.9px;top:779.2px;width:75.3px;height:19.4px;background:#fff;"></div>
<div class="abs" style="left:728.2px;top:779.2px;width:101.7px;height:19.4px;background:#cdcdcd;"></div>
<div class="abs" style="left:829.9px;top:779.2px;width:27.1px;height:19.4px;background:#fff;"></div>
<div class="abs" style="left:857.0px;top:779.2px;width:102.7px;height:19.4px;background:#cdcdcd;"></div>
<div class="abs" style="left:959.7px;top:779.2px;width:24.3px;height:19.4px;background:#fff;"></div>
<div class="abs" style="left:984.0px;top:779.2px;width:100.7px;height:19.4px;background:#cdcdcd;"></div>
<div class="abs" style="left:1084.7px;top:779.2px;width:22.5px;height:19.4px;background:#fff;"></div>
<div class="abs" style="left:1107.2px;top:779.2px;width:101.9px;height:19.4px;background:#cdcdcd;"></div>
<div class="abs" style="left:1209.1px;top:779.2px;width:24.3px;height:19.4px;background:#fff;"></div>
<div class="abs" style="left:1233.4px;top:779.2px;width:102.2px;height:19.4px;background:#cdcdcd;"></div>
<div class="abs" style="left:1335.6px;top:779.2px;width:23.2px;height:19.4px;background:#fff;"></div>
<div class="hl" style="left:470.6px;top:778.5px;width:989.6px;height:1.5px;background:#262626"></div>
<div class="vl" style="left:470.9px;top:779.2px;height:18.6px;width:1.5px;background:#2a2a2a"></div>
<div class="vl" style="left:572.4px;top:779.2px;height:18.6px;width:1.5px;background:#2a2a2a"></div>
<div class="vl" style="left:652.1px;top:779.2px;height:18.6px;width:1.5px;background:#2a2a2a"></div>
<div class="vl" style="left:727.5px;top:779.2px;height:18.6px;width:1.5px;background:#2a2a2a"></div>
<div class="vl" style="left:829.1px;top:779.2px;height:18.6px;width:1.5px;background:#2a2a2a"></div>
<div class="vl" style="left:856.2px;top:779.2px;height:18.6px;width:1.5px;background:#2a2a2a"></div>
<div class="vl" style="left:959.0px;top:779.2px;height:18.6px;width:1.5px;background:#2a2a2a"></div>
<div class="vl" style="left:983.2px;top:779.2px;height:18.6px;width:1.5px;background:#2a2a2a"></div>
<div class="vl" style="left:1084.0px;top:779.2px;height:18.6px;width:1.5px;background:#2a2a2a"></div>
<div class="vl" style="left:1106.5px;top:779.2px;height:18.6px;width:1.5px;background:#2a2a2a"></div>
<div class="vl" style="left:1208.3px;top:779.2px;height:18.6px;width:1.5px;background:#2a2a2a"></div>
<div class="vl" style="left:1232.7px;top:779.2px;height:18.6px;width:1.5px;background:#2a2a2a"></div>
<div class="vl" style="left:1334.8px;top:779.2px;height:18.6px;width:1.5px;background:#2a2a2a"></div>
<div class="vl" style="left:1358.0px;top:779.2px;height:18.6px;width:1.5px;background:#2a2a2a"></div>
<div class="gh" style="left:471.6px;top:797.7px;width:988.6px;background:#b4b4b4;height:1.8px"></div>
<div class="t r n red" style="left:471px;width:94.5px;top:780px;--x:0.60px;--y:0.80px;">$4,100.00</div>
<div class="t r n " style="left:728px;width:97.7px;top:780px;--x:0.20px;--y:0.80px;">$800.00</div>
<div class="t r n " style="left:857px;width:94.7px;top:780px;--x:0.00px;--y:0.80px;">$900.00</div>
<div class="t r n " style="left:984px;width:92.7px;top:780px;--x:0.00px;--y:0.80px;">$300.00</div>
<div class="t r n " style="left:1107px;width:93.9px;top:780px;--x:0.20px;--y:0.80px;">$1,700.00</div>
<div class="t r n " style="left:1233px;width:94.2px;top:780px;--x:0.40px;--y:0.80px;">$400.00</div>
<div class="t r n red2" style="left:1358px;width:98.8px;top:780px;--x:0.80px;--y:0.80px;">$4,100.00</div>
<div class="foot" style="left:90px;top:871px;">Montana Department of Commerce</div>
<div class="foot" style="left:90px;top:890px;">Treasure State Endowment Program</div>
<div class="foot" style="left:695px;width:200px;text-align:center;top:888.6px;">4-J.1</div>
<div class="foot" style="left:1103px;width:400px;text-align:right;top:871px;">Project Administration Manual</div>
<div class="foot" style="left:1103px;width:400px;text-align:right;top:890px;">May 2007</div>
<div class="fr" style="left:0;top:0;width:1592px;height:970px;box-sizing:border-box;border:5px solid #fbd9bb;"></div>
<div class="fr" style="left:0;top:0;width:1592px;height:970px;box-sizing:border-box;border:4px solid #e4832c;"></div>
<div class="fr" style="left:0;top:0;width:1592px;height:970px;box-sizing:border-box;border:3px solid #ff7400;"></div>
</body>
</html>
